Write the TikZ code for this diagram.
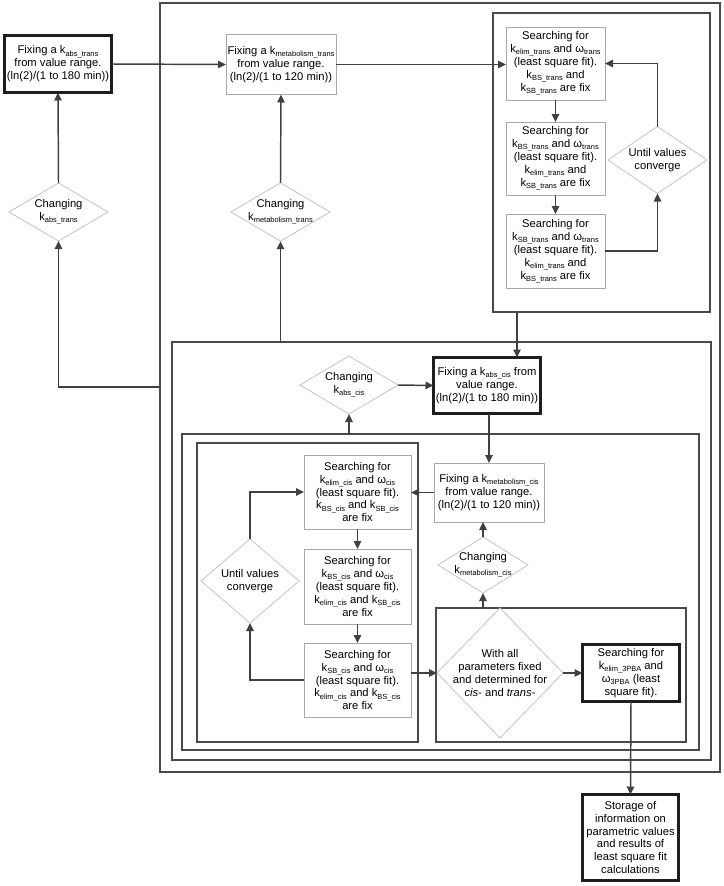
\documentclass[tikz,border=0pt]{standalone}
\usepackage{fontspec}
\setmainfont{Liberation Sans}
\usetikzlibrary{shapes.geometric,arrows.meta}
\definecolor{contc}{HTML}{4A4A4A}
\definecolor{boxc}{HTML}{A8A8A8}
\definecolor{diac}{HTML}{C4C4C4}
\definecolor{arrc}{HTML}{404040}
\definecolor{thickc}{HTML}{1E1E1E}
\newcommand\sbx[1]{\raisebox{-0.35ex}{\fontsize{5.6pt}{6pt}\selectfont #1}}
\begin{document}
\begin{tikzpicture}[x=0.75pt,y=-0.75pt,
  sz/.style 2 args={minimum width=#1*0.75pt, minimum height=#2*0.75pt},
  cont/.style={draw=contc, line width=1pt, inner sep=0pt, outer sep=0pt, rectangle},
  txt/.style={align=center, font=\fontsize{8.4pt}{9.7pt}\selectfont},
  box/.style={txt, draw=boxc, line width=0.6pt, fill=white, rectangle, inner sep=1pt, outer sep=0pt},
  tbox/.style={box, draw=thickc, line width=2.2pt},
  dia/.style={txt, draw=diac, line width=0.6pt, fill=white, diamond, inner sep=-1pt, outer sep=0pt},
  arr/.style={draw=arrc, line width=1.1pt, -{Triangle[length=6pt,width=5.5pt]}},
  plain/.style={draw=arrc, line width=1.1pt}
]
\useasboundingbox (0,0) rectangle (724,886);

% containers
\node[cont, sz={560}{769}] (outer) at (440,387.5) {};
\node[cont, sz={217}{299}] (tbx) at (601.5,162.5) {};
\node[cont, sz={539}{418}] (cis) at (441.5,551) {};
\node[cont, sz={517}{316}] (lev2) at (440.5,592) {};
\node[cont, sz={221}{299}] (inl) at (307.5,592.5) {};
\node[cont, sz={250}{134}] (wab) at (561,675) {};

% trans part
\node[tbox, sz={107}{57}] (kt) at (58,64) {Fixing a k\sbx{abs\_trans}\\from value range.\\(ln(2)/(1 to 180 min))};
\node[box, sz={110}{60}] (mt) at (281,64.5) {Fixing a k\sbx{metabolism\_trans}\\from value range.\\(ln(2)/(1 to 120 min))};
\node[dia, sz={99}{58}, aspect=1.7] (dkt) at (58.5,212) {Changing\\k\sbx{abs\_trans}};
\node[dia, sz={99}{58}, aspect=1.7] (dmt) at (280.5,212) {Changing\\k\sbx{metabolism\_trans}};

\node[box, sz={99}{73}] (st1) at (555.5,63.5) {Searching for\\k\sbx{elim\_trans} and ω\sbx{trans}\\(least square fit).\\k\sbx{BS\_trans} and\\k\sbx{SB\_trans} are fix};
\node[box, sz={99}{73}] (st2) at (555.5,158.5) {Searching for\\k\sbx{BS\_trans} and ω\sbx{trans}\\(least square fit).\\k\sbx{elim\_trans} and\\k\sbx{SB\_trans} are fix};
\node[box, sz={99}{74}] (st3) at (555.5,251) {Searching for\\k\sbx{SB\_trans} and ω\sbx{trans}\\(least square fit).\\k\sbx{elim\_trans} and\\k\sbx{BS\_trans} are fix};
\node[dia, sz={99}{67}, aspect=1.48] (dut) at (657.5,160) {Until values\\converge};

% cis part
\node[tbox, sz={107}{56}] (kc) at (487,385.5) {Fixing a k\sbx{abs\_cis} from\\value range.\\(ln(2)/(1 to 180 min))};
\node[dia, sz={98}{58}, aspect=1.7] (dkc) at (349,385) {Changing\\k\sbx{abs\_cis}};
\node[box, sz={110}{59}] (mc) at (489,492.5) {Fixing a k\sbx{metabolism\_cis}\\from value range.\\(ln(2)/(1 to 120 min))};
\node[dia, sz={90}{56}, aspect=1.6] (dmc) at (483,565) {Changing\\k\sbx{metabolism\_cis}};

\node[box, sz={107}{74}] (sc1) at (357.5,492) {Searching for\\k\sbx{elim\_cis} and ω\sbx{cis}\\(least square fit).\\k\sbx{BS\_cis} and k\sbx{SB\_cis}\\are fix};
\node[box, sz={107}{75}] (sc2) at (357.5,586.5) {Searching for\\k\sbx{BS\_cis} and ω\sbx{cis}\\(least square fit).\\k\sbx{elim\_cis} and k\sbx{SB\_cis}\\are fix};
\node[box, sz={107}{74}] (sc3) at (357.5,680) {Searching for\\k\sbx{SB\_cis} and ω\sbx{cis}\\(least square fit).\\k\sbx{elim\_cis} and k\sbx{BS\_cis}\\are fix};
\node[dia, sz={98}{84}, aspect=1.17] (duc) at (250,581) {Until values\\converge};

\node[dia, sz={126}{130}, aspect=0.97, inner sep=-8pt] (dwa) at (500,673) {With all\\parameters fixed\\and determined for\\\textit{cis}- and \textit{trans}-};
\node[tbox, sz={97}{57}] (s3) at (631,673) {Searching for\\k\sbx{elim\_3PBA} and\\ω\sbx{3PBA} (least\\square fit).};
\node[tbox, sz={96}{86}] (stor) at (630.5,837.5) {Storage of\\information on\\parametric values\\and results of\\least square fit\\calculations};

% connectors (trans)
\draw[arr] (kt.east) -- (mt.west);
\draw[arr] (mt.east) -- (mt.east -| st1.west);
\draw[arr] (dkt.north) -- (kt.south);
\draw[arr] (dmt.north) -- (mt.south);
\coordinate (jl) at (160,387);
\draw[arr] (jl) -| (dkt.south);
\draw[arr] (dmt.south |- cis.north) -- (dmt.south);
\draw[arr] (st1.south) -- (st2.north);
\draw[arr] (st2.south) -- (st3.north);
\draw[arr] (dut.north) |- (st1.east);
\draw[arr] (st3.east) -| (dut.south);

% connectors (cis)
\coordinate (tb) at (517,312);
\draw[arr] (tb) -- (tb |- kc.north);
\draw[arr] (dkc.east) -- (kc.west);
\draw[arr] (dkc.south |- lev2.north) -- (dkc.south);
\draw[arr] (kc.south -| mc.north) -- (mc.north);
\draw[arr] (mc.west) -- (mc.west -| sc1.east);
\draw[arr] (sc1.south) -- (sc2.north);
\draw[arr] (sc2.south) -- (sc3.north);
\draw[arr] (duc.north) |- (sc1.west);
\draw[arr] (sc3.west) -| (duc.south);
\draw[arr] (sc3.east |- dwa.west) -- (dwa.west);
\draw[arr] (dwa.east) -- (s3.west);
\draw[arr] (dmc.south |- wab.north) -- (dmc.south);
\draw[arr] (dmc.north) -- (dmc.north |- mc.south);
\draw[arr] (s3.south) -- (stor.north);
\end{tikzpicture}
\end{document}
